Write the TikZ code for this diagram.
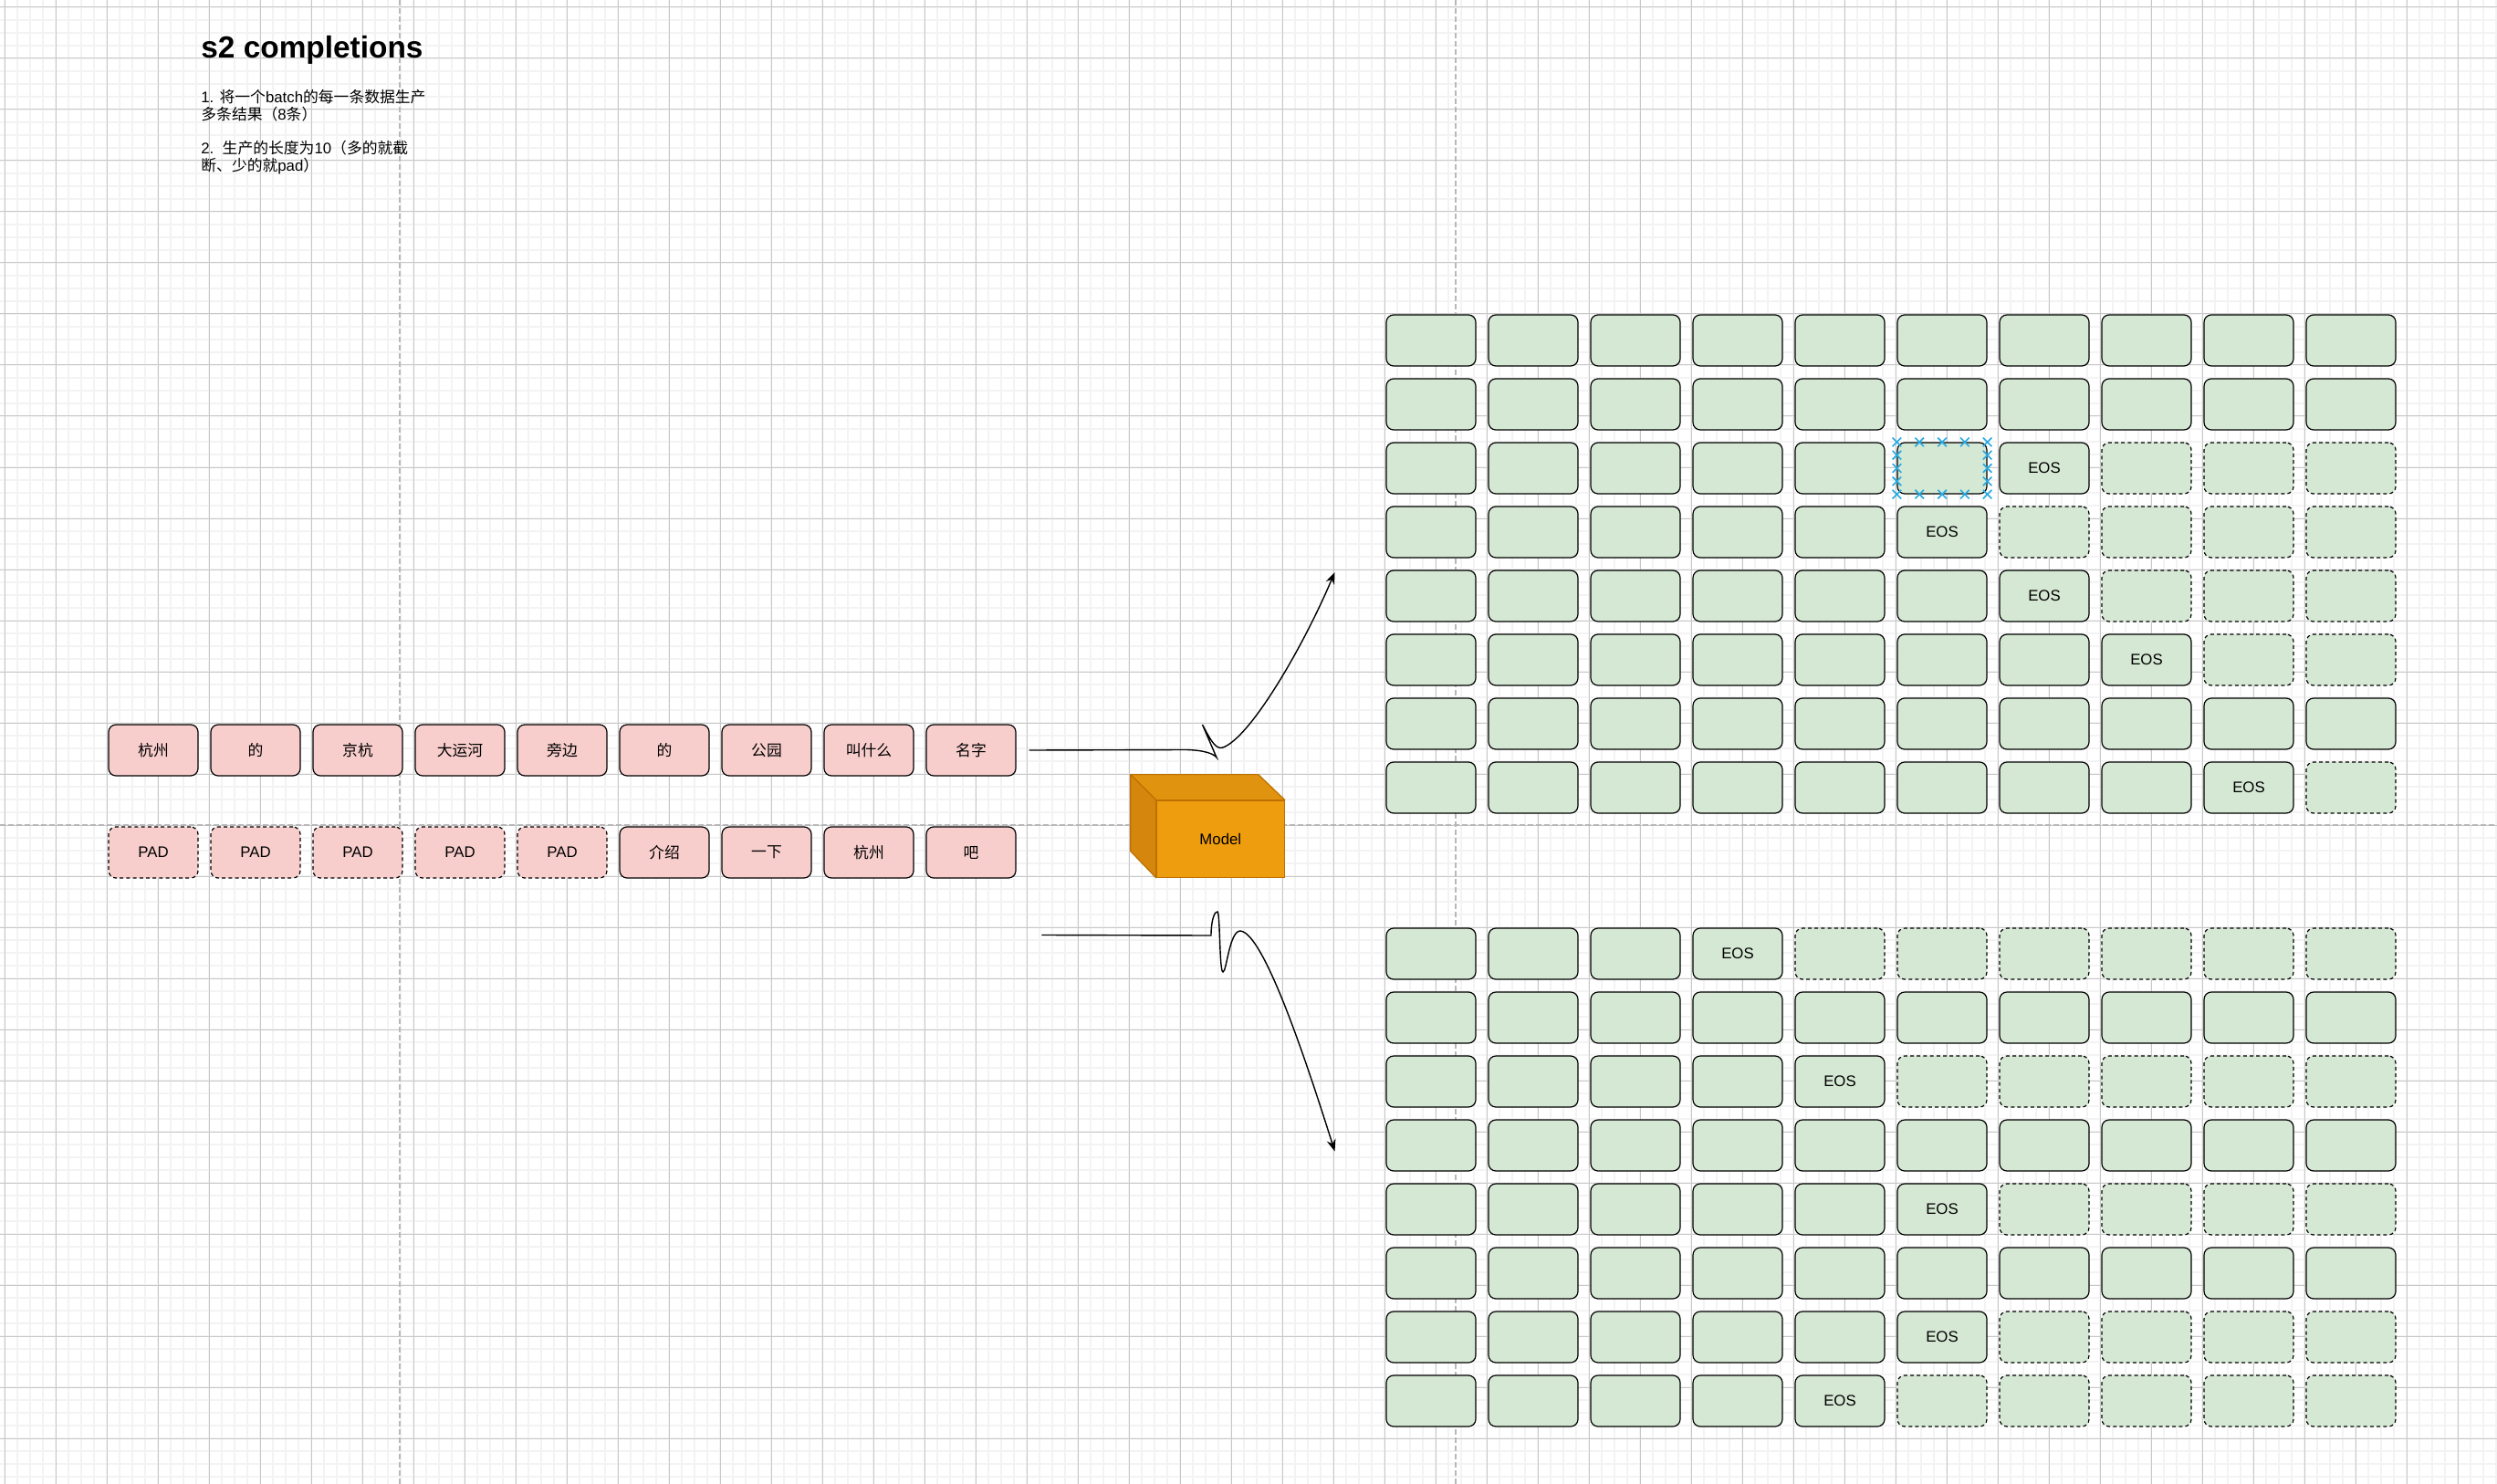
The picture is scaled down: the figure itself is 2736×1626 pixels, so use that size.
\documentclass[tikz,border=0pt]{standalone}
\usepackage{fontspec}
\setmainfont{Liberation Sans}
\newfontfamily\cjk{Noto Sans CJK SC}
\usetikzlibrary{arrows.meta,calc,shapes.misc}

\definecolor{tokpink}{HTML}{F8CECC}
\definecolor{tokgreen}{HTML}{D5E8D4}
\definecolor{gridminor}{HTML}{F3F3F3}
\definecolor{gridmajor}{HTML}{C8C8C8}
\definecolor{pagebreak}{HTML}{B8B8B8}
\definecolor{selblue}{RGB}{41,170,225}
\definecolor{modelfront}{RGB}{238,157,14}
\definecolor{modeltop}{RGB}{224,147,14}
\definecolor{modelside}{RGB}{213,134,12}
\definecolor{modelline}{RGB}{189,112,0}

\begin{document}
\begin{tikzpicture}[x=0.5pt,y=-0.5pt,
	tok/.style={rectangle,rounded corners=4pt,draw=black,line width=0.6pt,
		minimum width=49pt,minimum height=28pt,inner sep=0pt,
		font=\fontsize{8.4}{10}\selectfont},
	prompt/.style={tok,fill=tokpink},
	gen/.style={tok,fill=tokgreen},
	padtok/.style={dash pattern=on 2pt off 1.6pt},
	selmark/.style={cross out,draw=selblue,line width=0.8pt,minimum size=4pt,inner sep=0pt},
	flow/.style={-{Stealth[length=6.5pt,width=5pt]},line width=0.7pt},
	note/.style={anchor=base west,inner sep=0pt,font=\fontsize{8.4}{10}\selectfont}]
		\useasboundingbox (0,0) rectangle (2736,1626);
		\fill[white] (0,0) rectangle (2736,1626);
		
		% background grid of the canvas
		\foreach \k in {0,...,195} {
			\draw[gridminor,line width=1pt] ({5.3+14*\k},0) -- ({5.3+14*\k},1626);
		}
		\foreach \k in {0,...,115} {
			\draw[gridminor,line width=1pt] (0,{8+14*\k}) -- (2736,{8+14*\k});
		}
		\foreach \k in {0,...,48} {
			\draw[gridmajor,line width=0.5pt] ({5.3+56*\k},0) -- ({5.3+56*\k},1626);
		}
		\foreach \k in {0,...,28} {
			\draw[gridmajor,line width=0.5pt] (0,{8+56*\k}) -- (2736,{8+56*\k});
		}
		\draw[pagebreak,line width=0.9pt,dash pattern=on 3pt off 1.5pt] (438,0) -- (438,1626);
		\draw[pagebreak,line width=0.9pt,dash pattern=on 3pt off 1.5pt] (1595,0) -- (1595,1626);
		\draw[pagebreak,line width=0.9pt,dash pattern=on 3pt off 1.5pt] (0,904) -- (2736,904);
		
		% title and notes
		\node[anchor=base west,inner sep=0pt,font=\fontsize{16.7}{20}\selectfont\bfseries] (title) at (220,63.3) {s2 completions};
		\node[note] (note1a) at (220,112.5) {1. {\cjk 将一个}batch{\cjk 的每一条数据生产}};
		\node[note] (note1b) at (220,131.5) {{\cjk 多条结果（}8{\cjk 条）}};
		\node[note] (note2a) at (220,168.5) {2.\ \ {\cjk 生产的长度为}10{\cjk （多的就截}};
		\node[note] (note2b) at (220,187.5) {{\cjk 断、少的就}pad{\cjk ）}};
		
		% the two prompts of the batch
		\foreach \c/\w in {1/杭州,2/的,3/京杭,4/大运河,5/旁边,6/的,7/公园,8/叫什么,9/名字} {
			\node[prompt] (w-\c) at ({56+112*\c},822) {\cjk \w};
		}
		\foreach \c/\w in {1/PAD,2/PAD,3/PAD,4/PAD,5/PAD,6/介绍,7/一下,8/杭州,9/吧} {
			\ifnum\c<6 \node[prompt,padtok] (v-\c) at ({56+112*\c},934) {\w};
			\else \node[prompt] (v-\c) at ({56+112*\c},934) {\cjk \w}; \fi
		}
		
		% model as a box
		\node[rectangle,fill=modelfront,draw=modelline,line width=0.6pt,minimum width=70pt,
			minimum height=42pt,font=\fontsize{8.4}{10}\selectfont] (model) at (1337.3,919.2) {Model};
		\filldraw[fill=modeltop,draw=modelline,line width=0.6pt,line join=round]
			(model.north west) -- ++(-28,-28) -- ++(140,0) -- (model.north east) -- cycle;
		\filldraw[fill=modelside,draw=modelline,line width=0.6pt,line join=round]
			(model.north west) -- ++(-28,-28) -- ++(0,84) -- (model.south west) -- cycle;
		
		% 8 completions per prompt, \e is where EOS sits (11 = none)
		\foreach \r/\e in {1/11,2/11,3/7,4/6,5/7,6/8,7/11,8/9} {
			\foreach \c in {1,...,10} {
				\ifnum\c<\e \node[gen] (a-\r-\c) at ({1456+112*\c},{303+70*\r}) {}; \fi
				\ifnum\c=\e \node[gen] (a-\r-\c) at ({1456+112*\c},{303+70*\r}) {EOS}; \fi
				\ifnum\c>\e \node[gen,padtok] (a-\r-\c) at ({1456+112*\c},{303+70*\r}) {}; \fi
			}
		}
		\foreach \r/\e in {1/4,2/11,3/5,4/11,5/6,6/11,7/6,8/5} {
			\foreach \c in {1,...,10} {
				\ifnum\c<\e \node[gen] (b-\r-\c) at ({1456+112*\c},{975+70*\r}) {}; \fi
				\ifnum\c=\e \node[gen] (b-\r-\c) at ({1456+112*\c},{975+70*\r}) {EOS}; \fi
				\ifnum\c>\e \node[gen,padtok] (b-\r-\c) at ({1456+112*\c},{975+70*\r}) {}; \fi
			}
		}
		
		% selection handles round one cell
		\foreach \t in {0,0.25,0.5,0.75,1} {
			\node[selmark] at ($(a-3-6.north west)!\t!(a-3-6.north east)$) {};
			\node[selmark] at ($(a-3-6.south west)!\t!(a-3-6.south east)$) {};
		}
		\foreach \t in {0.25,0.5,0.75} {
			\node[selmark] at ($(a-3-6.north west)!\t!(a-3-6.south west)$) {};
			\node[selmark] at ($(a-3-6.north east)!\t!(a-3-6.south east)$) {};
		}
		
		% curved connectors to the outputs
		\coordinate (src1) at ([xshift=7pt]w-9.east);
		\coordinate (dst1) at (1462.5,627);
		\coordinate (src2) at (1141.3,1024.5);
		\coordinate (dst2) at (1462.5,1261.5);
		\draw[flow] (src1) -- (1300,821.5) .. controls (1320,822) and (1330,826) .. (1333,830)
			-- (1317.5,794) .. controls (1326,810) and (1332,822) .. (1340,819)
			.. controls (1370,808) and (1427.4,709.8) .. (dst1);
		\draw[flow] (src2) -- (1327,1025) .. controls (1327,1008) and (1331,998) .. (1334,999)
			.. controls (1337,1000) and (1336,1065) .. (1340,1065)
			.. controls (1344,1065) and (1347,1020) .. (1359,1020)
			.. controls (1385,1022) and (1432.5,1166.5) .. (dst2);
\end{tikzpicture}
\end{document}
